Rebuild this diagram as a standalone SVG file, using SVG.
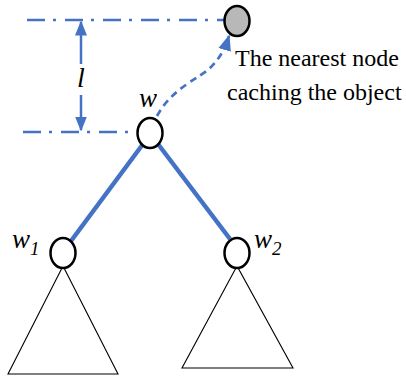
<svg xmlns="http://www.w3.org/2000/svg" width="406" height="379" viewBox="0 0 406 379">
<defs>
<style>
.dd{fill:none;stroke:#4472C4;stroke-width:2.5;stroke-dasharray:18 8 3 9}
.ds{fill:none;stroke:#4472C4;stroke-width:2.7;stroke-dasharray:7 5}
.edge{stroke:#4472C4;stroke-width:4.5;fill:none}
.arr{stroke:#4472C4;stroke-width:2.5;fill:none}
.node{fill:#fff;stroke:#000;stroke-width:2.5}
.tri{fill:#fff;stroke:#000;stroke-width:1.1}
.lbl{font-family:"Liberation Serif","Times New Roman",serif;font-style:italic;fill:#000}
.txt{font-family:"Liberation Serif","Times New Roman",serif;font-size:24px;fill:#000}
</style>
<marker id="ah" viewBox="0 0 10 10" refX="9" refY="5" markerWidth="6" markerHeight="6" markerUnits="strokeWidth" orient="auto">
<path d="M0,1 L10,5 L0,9 Z" fill="#4472C4"/>
</marker>
</defs>
<g id="subtrees">
<polygon class="tri" points="63,266 8,374 118,374"/>
<polygon class="tri" points="237,266 182,368 293,368"/>
</g>
<g id="connectors">
<line class="dd" x1="27" y1="20" x2="224" y2="20"/>
<line class="dd" x1="23" y1="132" x2="136" y2="132"/>
<line class="arr" x1="81" y1="64" x2="81" y2="22" marker-end="url(#ah)"/>
<line class="arr" x1="81" y1="95" x2="81" y2="130" marker-end="url(#ah)"/>
<path class="ds" d="M157,116 C172,88 200,78 210,68 C218,60 224,52 229,36" marker-end="url(#ah)"/>
<line class="edge" x1="143" y1="144" x2="71" y2="241"/>
<line class="edge" x1="158" y1="144" x2="230" y2="239"/>
</g>
<g id="node-cache">
<ellipse cx="237" cy="21" rx="12.5" ry="15" fill="#b8b8b8" stroke="#000" stroke-width="2.5"/>
<text class="txt" x="235" y="66">The nearest node</text>
<text class="txt" x="227" y="100">caching the object</text>
</g>
<g id="node-w">
<ellipse class="node" cx="150" cy="133" rx="12.5" ry="15"/>
<text class="lbl" x="139" y="107" font-size="27">w</text>
</g>
<g id="node-w1">
<ellipse class="node" cx="63" cy="253" rx="12.5" ry="15"/>
<text class="lbl" x="12" y="248" font-size="27">w<tspan font-size="19" dy="7">1</tspan></text>
</g>
<g id="node-w2">
<ellipse class="node" cx="237" cy="253" rx="12.5" ry="15"/>
<text class="lbl" x="254" y="248" font-size="27">w<tspan font-size="19" dy="7">2</tspan></text>
</g>
<g id="label-l">
<text class="lbl" x="81" y="87" font-size="28" text-anchor="middle">l</text>
</g>
</svg>
